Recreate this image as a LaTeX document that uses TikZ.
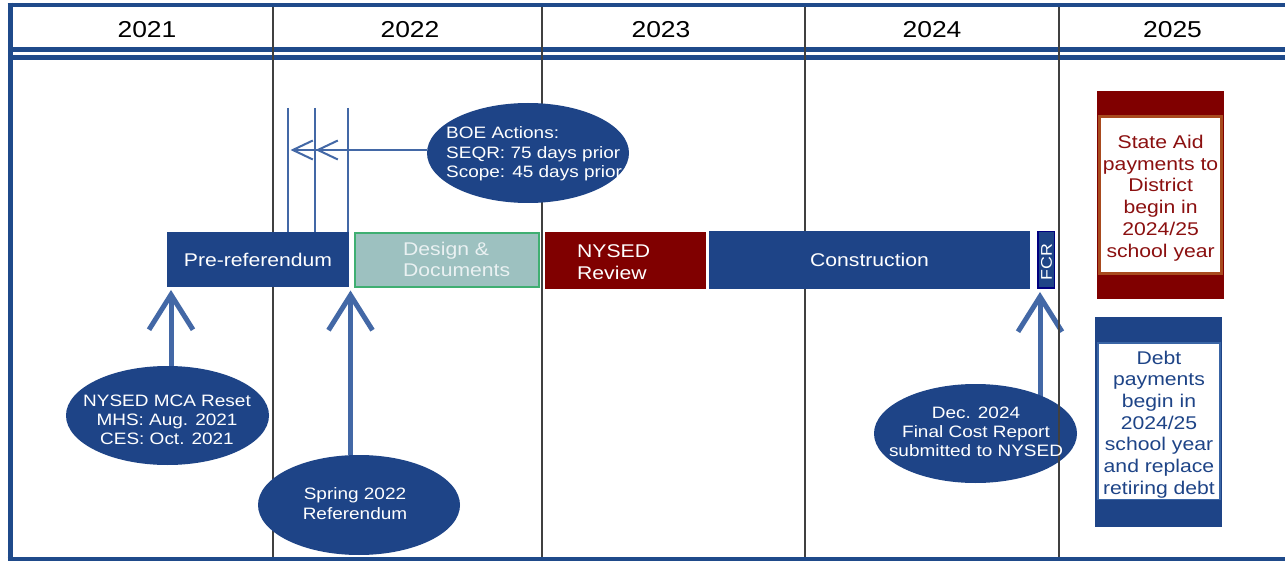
\documentclass[tikz,border=0pt]{standalone}
\usepackage{fontspec}
\setmainfont{Liberation Sans}[FakeStretch=1.15]
\usetikzlibrary{shapes.geometric,arrows.meta}
\definecolor{frameblue}{HTML}{1F4A8A}
\definecolor{boxblue}{HTML}{1E4487}
\definecolor{ellblue}{HTML}{1E4487}
\definecolor{arrowblue}{HTML}{4368A6}
\definecolor{divgray}{HTML}{404040}
\definecolor{darkred}{HTML}{800000}
\definecolor{aidline}{HTML}{A84A1E}
\definecolor{aidtext}{HTML}{8B1010}
\definecolor{debtline}{HTML}{3A65A5}
\definecolor{designfill}{HTML}{9DC1C0}
\definecolor{designline}{HTML}{3FAF72}
\definecolor{designtext}{HTML}{EAF1F2}
\definecolor{fcrline}{HTML}{000080}
\newcommand{\fsyear}{\fontsize{23}{27}\selectfont}
\newcommand{\fsbox}{\fontsize{18.4}{21.7}\selectfont}
\newcommand{\fsell}{\fontsize{16.5}{19.3}\selectfont}
\newcommand{\fsfcr}{\fontsize{15.5}{18}\selectfont}
\begin{document}
\begin{tikzpicture}[x=1pt,y=-1pt,
  divider/.style={draw=divgray, line width=2pt},
  bar/.style={rectangle, inner sep=0pt, anchor=center},
  yeartext/.style={inner sep=0pt, font=\fsyear, text=black},
  oval/.style={ellipse, fill=ellblue, inner sep=0pt},
  ovaltext/.style={inner sep=0pt, font=\fsell, text=white},
  bigarrow/.style={draw=arrowblue, line width=5pt, -{Straight Barb[length=35pt,width=44pt]}},
  smallarrow/.style={draw=arrowblue, line width=2pt, -{Straight Barb[length=20pt,width=19pt]}},
  tickline/.style={draw=arrowblue, line width=2pt},
]
\useasboundingbox (0,0) rectangle (1285,561);
\fill[white] (0,0) rectangle (1285,561);

% frame
\draw[frameblue, line width=4.5pt] (7.5,5) -- (1285,5);
\draw[frameblue, line width=5pt] (10,2.75) -- (10,561);
\draw[frameblue, line width=4pt] (7.5,559) -- (1285,559);
\draw[frameblue, line width=5.5pt] (10,49.5) -- (1285,49.5);
\draw[frameblue, line width=5pt] (10,57.5) -- (1285,57.5);

% dividers
\draw[divider] (273,7) -- (273,557);
\draw[divider] (542,7) -- (542,557);
\draw[divider] (805,7) -- (805,557);
\draw[divider] (1058.5,7) -- (1058.5,557);

% years
\node[yeartext] (y2021) at (147,29.5) {2021};
\node[yeartext] (y2022) at (410,29.5) {2022};
\node[yeartext] (y2023) at (661,29.5) {2023};
\node[yeartext] (y2024) at (932,29.5) {2024};
\node[yeartext] (y2025) at (1172.5,29.5) {2025};

% BOE ticks
\draw[tickline] (288.3,108) -- (288.3,232);
\draw[tickline] (315,108) -- (315,232);
\draw[tickline] (348,108) -- (348,232);

% phase bars
\node[bar, fill=boxblue, minimum width=182pt, minimum height=55pt, text=white, font=\fsbox] (pre) at (258,259.5) {Pre-referendum};
\node[bar, fill=designfill, draw=designline, line width=2pt, minimum width=184pt, minimum height=54pt] (design) at (447,260) {};
\node[anchor=west, align=left, inner sep=0pt, text=designtext, font=\fsbox] (designlbl) at (403,259.5) {Design \&\\Documents};
\node[bar, fill=darkred, minimum width=161pt, minimum height=57pt] (nysed) at (625.5,260.5) {};
\node[anchor=west, align=left, inner sep=0pt, text=white, font=\fsbox] (nysedlbl) at (577,262) {NYSED\\Review};
\node[bar, fill=boxblue, minimum width=321pt, minimum height=58pt, text=white, font=\fsbox] (constr) at (869.5,260) {Construction};
\node[bar, fill=boxblue, draw=fcrline, line width=1.5pt, minimum width=16.5pt, minimum height=56.5pt] (fcr) at (1046,260) {};
\node[rotate=90, inner sep=0pt, text=white, font=\fsfcr] (fcrlbl) at (1046.5,262) {FCR};

% 2025 boxes
\node[bar, fill=darkred, minimum width=127pt, minimum height=208pt] (aidbox) at (1160.5,195) {};
\node[bar, fill=white, draw=aidline, line width=3pt, minimum width=121.5pt, minimum height=157pt] (aid) at (1160.6,195) {};
\node[inner sep=0pt, text=aidtext, font=\fsbox, align=center] (aidlbl) at (1160.6,198) {State Aid\\payments to\\District\\begin in\\2024/25\\school year};
\node[bar, fill=boxblue, minimum width=127pt, minimum height=210pt] (debtbox) at (1158.5,422) {};
\node[bar, fill=white, draw=debtline, line width=1.5pt, minimum width=122.4pt, minimum height=156.2pt] (debt) at (1159,421.2) {};
\node[inner sep=0pt, text=boxblue, font=\fsbox, align=center] (debtlbl) at (1159,424.5) {Debt\\payments\\begin in\\2024/25\\school year\\and replace\\retiring debt};

% ellipses (shapes)
\node[oval, minimum width=202pt, minimum height=100pt] (boe) at (528,153) {};
\node[oval, minimum width=203pt, minimum height=99pt] (mca) at (167.5,415.5) {};
\node[oval, minimum width=202pt, minimum height=100pt] (spring) at (359,505) {};

% arrows
\coordinate (a1) at (171,290);
\coordinate (a2) at (350.5,290.5);
\coordinate (a3) at (1040,292);
\coordinate (t1) at (290.5,150);
\coordinate (t2) at (315.5,150);
\draw[bigarrow] (a1 |- mca.north) -- (a1);
\draw[bigarrow] (a2 |- spring.north) -- (a2);
\draw[bigarrow] (a3 |- 0,420) -- (a3);
\draw[smallarrow] (t1 -| boe.west) -- (t1);
\draw[smallarrow] (t2 -| boe.west) -- (t2);

\node[oval, minimum width=203pt, minimum height=99pt] (dec) at (975.5,433.5) {};
\draw[divider] (1058.5,300) -- (1058.5,557);

% ellipse texts
\node[ovaltext, anchor=west, align=left] (boelbl) at (446,154) {BOE Actions:\\SEQR: 75 days prior\\Scope: 45 days prior};
\node[ovaltext, align=center] (mcalbl) at (167,420) {NYSED MCA Reset\\MHS: Aug. 2021\\CES: Oct. 2021};
\node[ovaltext, align=center] (springlbl) at (355,503.5) {Spring 2022\\Referendum};
\node[ovaltext, align=center] (declbl) at (976,432) {Dec. 2024\\Final Cost Report\\submitted to NYSED};
\end{tikzpicture}
\end{document}
